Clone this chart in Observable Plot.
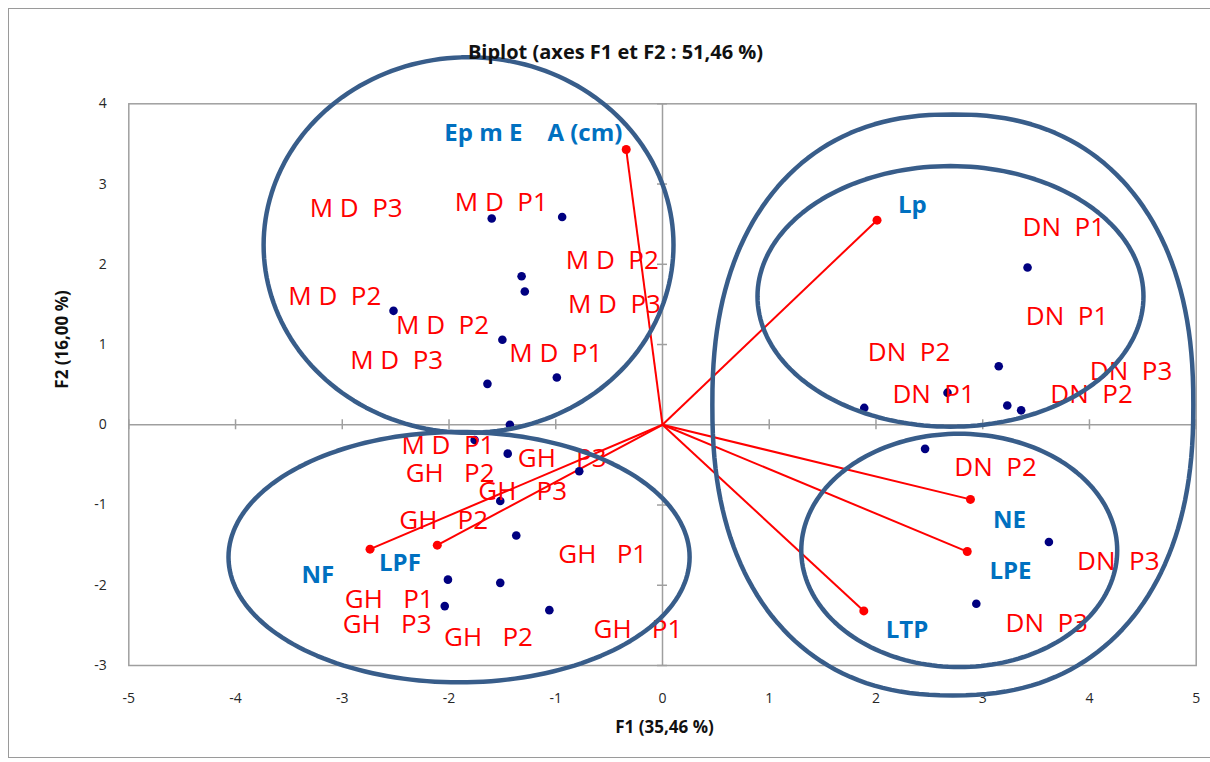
<!DOCTYPE html>
<html>
<head>
<meta charset="utf-8">
<script src="https://cdn.jsdelivr.net/npm/d3@7"></script>
<script src="https://cdn.jsdelivr.net/npm/@observablehq/plot@0.6"></script>
<style>
  html, body { margin: 0; padding: 0; background: #fff; }
  #wrap { position: relative; width: 1210px; height: 762px; overflow: hidden; }
  #border { position: absolute; left: 8px; top: 8px; width: 1220px; height: 750px;
            border: 1.5px solid #9a9a9a; box-sizing: border-box; }
  #chart { position: absolute; left: 0; top: 0; }
  svg text { white-space: pre; }
</style>
</head>
<body>
<div id="wrap"><div id="border"></div><div id="chart"></div></div>
<script>
// ---- data ----
const titleText = "Biplot (axes F1 et F2 : 51,46 %)";
const xLabel = "F1 (35,46 %)";
const yLabel = "F2 (16,00 %)";
const xTicks = [-5, -4, -3, -2, -1, 0, 1, 2, 3, 4, 5];
const yTicks = [-3, -2, -1, 0, 1, 2, 3, 4];

// observations (F1, F2)
const obsX = [-1.60, -0.94, -1.32, -1.29, -2.52, -1.50, -0.99, -1.64, -1.43,
              -1.76, -1.45, -0.78, -1.52, -1.37, -2.01, -1.52, -2.04, -1.06,
               3.42,  3.15,  2.67,  1.89,  3.23,  3.36,  2.46,  3.62,  2.94];
const obsY = [ 2.57,  2.59,  1.85,  1.66,  1.42,  1.06,  0.59,  0.51,  0.00,
              -0.19, -0.36, -0.58, -0.95, -1.38, -1.93, -1.97, -2.26, -2.31,
               1.96,  0.73,  0.40,  0.21,  0.24,  0.18, -0.30, -1.46, -2.23];

// observation labels (as placed on the chart)
const obsLabelText = [
  "M D  P3", "M D  P1", "M D  P2", "M D  P3", "M D  P2", "M D  P2", "M D  P3", "M D  P1", "M D  P1",
  "GH   P2", "GH   P3", "GH   P3", "GH   P2", "GH   P1", "GH   P1", "GH   P3", "GH   P2", "GH   P1",
  "DN  P1", "DN  P1", "DN  P2", "DN  P1", "DN  P3", "DN  P2", "DN  P2", "DN  P3", "DN  P3"];
const obsLabelX = [-2.87, -1.51, -0.47, -0.45, -3.07, -2.06, -2.49, -1.00, -2.01,
                   -1.99, -0.94, -1.31, -2.05, -0.56, -2.56, -2.58, -1.63, -0.23,
                    3.76,  3.79,  2.31,  2.54,  4.39,  4.02,  3.12,  4.27,  3.60];
const obsLabelY = [ 2.69,  2.77,  2.05,  1.50,  1.60,  1.24,  0.80,  0.88, -0.26,
                   -0.61, -0.42, -0.83, -1.20, -1.62, -2.18, -2.49, -2.65, -2.55,
                    2.46,  1.35,  0.90,  0.38,  0.66,  0.37, -0.54, -1.70, -2.48];

// variables (loadings)
const varNames  = ["Ep m E    A (cm)", "Lp", "NE", "LPE", "LTP", "NF", "LPF"];
const varX      = [-0.34, 2.01, 2.885, 2.855, 1.886, -2.74, -2.11];
const varY      = [ 3.43, 2.55, -0.93, -1.58, -2.32, -1.55, -1.50];
const varLabelX = [-1.21, 2.34, 3.25, 3.26, 2.29, -3.23, -2.46];
const varLabelY = [ 3.63, 2.74, -1.19, -1.82, -2.56, -1.87, -1.73];

// group outlines: centre, radii (data units) and squareness exponent
const groupCx = [-1.817, -1.906, 2.72, 2.698, 2.78];
const groupCy = [ 2.24, -1.65, 0.247, 1.60, -1.566];
const groupRx = [ 1.92,  2.16, 2.253, 1.808, 1.48];
const groupRy = [ 2.34,  1.56, 3.62, 1.624, 1.454];
const groupN  = [ 2, 2, 2.3, 2, 2];

// ---- tables built from the arrays ----
const obs = obsX.map((x, i) => ({x, y: obsY[i]}));
const obsLabels = obsLabelText.map((t, i) => ({text: t, x: obsLabelX[i], y: obsLabelY[i]}));
const vars = varNames.map((n, i) => ({name: n, x: varX[i], y: varY[i], lx: varLabelX[i], ly: varLabelY[i]}));
const outline = groupCx.flatMap((cx, g) => d3.range(0, 361, 2).map(a => {
  const t = a * Math.PI / 180, c = Math.cos(t), s = Math.sin(t), e = 2 / groupN[g];
  return {g, x: cx + groupRx[g] * Math.sign(c) * Math.abs(c) ** e,
             y: groupCy[g] + groupRy[g] * Math.sign(s) * Math.abs(s) ** e};
}));

const red = "#ff0000", blue = "#0070c0", navy = "#000080", grey = "#9f9f9f", ring = "#385d8a";

const chart = Plot.plot({
  width: 1210, height: 762,
  marginLeft: 128.3, marginRight: 14.3, marginTop: 103.3, marginBottom: 97,
  x: {domain: [-5, 5], axis: null},
  y: {domain: [-3, 4], axis: null},
  style: {fontFamily: "'Open Sans', sans-serif", background: "transparent", overflow: "visible"},
  marks: [
    Plot.frame({stroke: grey, strokeWidth: 1.5}),
    Plot.ruleX([0], {stroke: grey, strokeWidth: 1.5}),
    Plot.ruleY([0], {stroke: grey, strokeWidth: 1.5}),
    Plot.ruleX(xTicks, {x: d => d, y1: 0, y2: 0, insetTop: -5, insetBottom: -5, stroke: grey, strokeWidth: 1.5}),
    Plot.ruleY(yTicks, {y: d => d, x1: 0, x2: 0, insetLeft: -5, insetRight: -5, stroke: grey, strokeWidth: 1.5}),
    Plot.text(xTicks, {x: d => d, text: d => String(d), frameAnchor: "bottom", dy: 37, fontSize: 14, fill: "#262626"}),
    Plot.text(yTicks, {y: d => d, text: d => String(d), frameAnchor: "left", dx: -22, textAnchor: "end", fontSize: 14, fill: "#262626"}),
    Plot.text([xLabel], {frameAnchor: "bottom", dx: 2, dy: 67, fontSize: 17, fontWeight: "bold", fill: "#111"}),
    Plot.text([yLabel], {frameAnchor: "left", dx: -66, dy: 4, rotate: -90, fontSize: 17, fontWeight: "bold", fill: "#111"}),
    Plot.link(vars, {x1: 0, y1: 0, x2: "x", y2: "y", stroke: red, strokeWidth: 2}),
    Plot.dot(vars, {x: "x", y: "y", r: 4.5, fill: red}),
    Plot.dot(obs, {x: "x", y: "y", r: 4.3, fill: navy}),
    Plot.text(obsLabels, {x: "x", y: "y", text: "text", fill: red, fontSize: 26}),
    Plot.text(vars, {x: "lx", y: "ly", text: "name", fill: blue, fontSize: 24, fontWeight: "bold"}),
    Plot.line(outline, {x: "x", y: "y", z: "g", stroke: ring, strokeWidth: 4.5}),
    Plot.text([titleText], {frameAnchor: "top", dx: -47, dy: -59, fontSize: 20, fontWeight: "bold", fill: "#111"})
  ]
});
document.getElementById("chart").appendChild(chart);
</script>
</body>
</html>
